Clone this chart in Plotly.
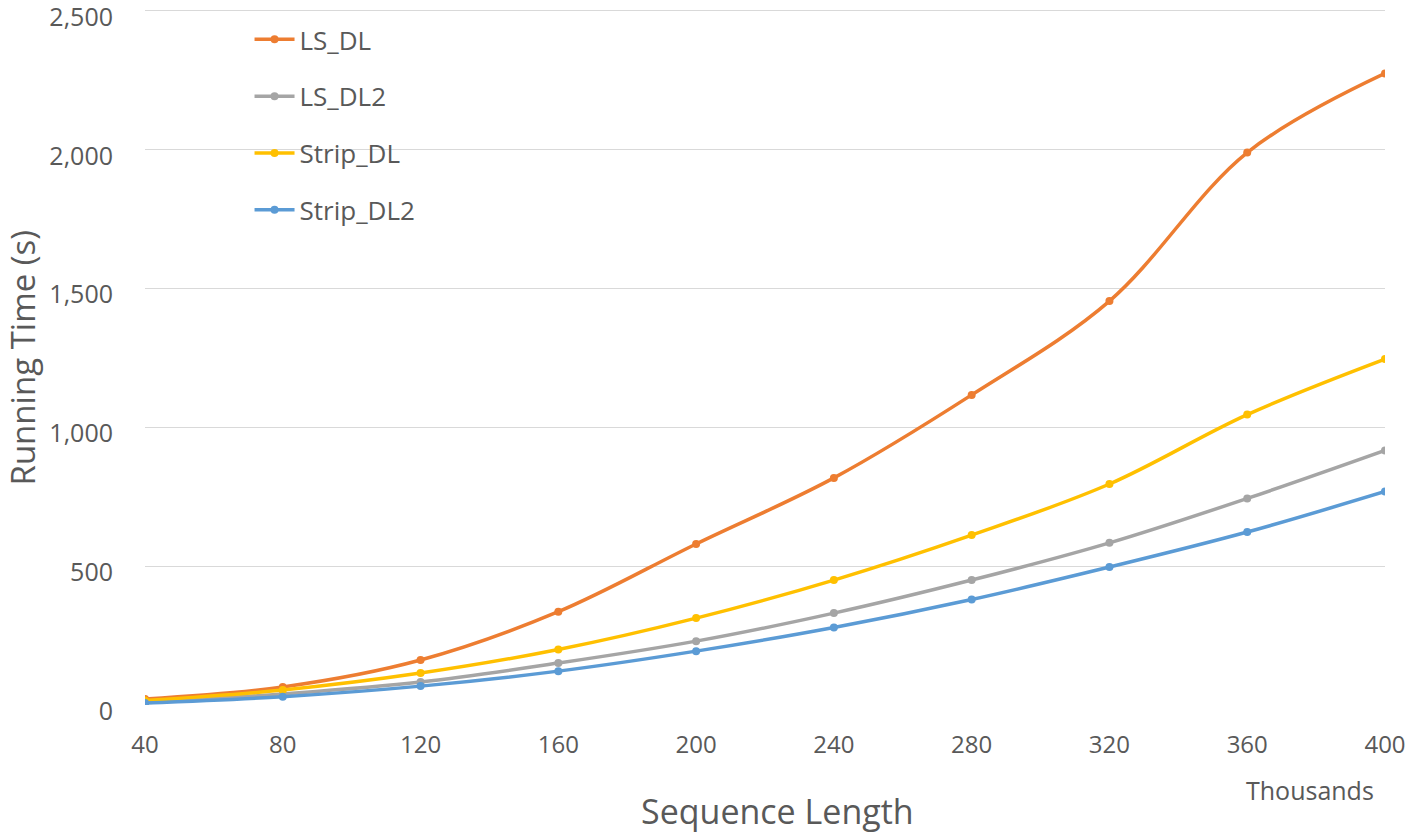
import plotly.graph_objects as go

seq_len = [40, 80, 120, 160, 200, 240, 280, 320, 360, 400]
ls_dl = [22, 65, 162, 336, 580, 818, 1117, 1455, 1990, 2275]
ls_dl2 = [8, 40, 83, 151, 230, 331, 450, 584, 744, 917]
strip_dl = [16, 54, 115, 200, 313, 450, 612, 796, 1046, 1246]
strip_dl2 = [7, 30, 68, 122, 194, 279, 380, 497, 623, 769]
y_ticks = [0, 500, 1000, 1500, 2000, 2500]

series = [
    ("LS_DL", ls_dl, "#ED7D31"),
    ("LS_DL2", ls_dl2, "#A5A5A5"),
    ("Strip_DL", strip_dl, "#FFC000"),
    ("Strip_DL2", strip_dl2, "#5B9BD5"),
]

font_family = "Open Sans, Noto Sans, sans-serif"
text_color = "#595959"

fig = go.Figure()
for name, vals, color in series:
    fig.add_trace(go.Scatter(
        x=seq_len, y=vals, name=name, mode="lines+markers",
        line=dict(color=color, width=3.5, shape="spline", smoothing=1),
        marker=dict(color=color, size=8),
        legendgroup=name,
    ))

fig.update_layout(
    width=1415, height=833,
    paper_bgcolor="white", plot_bgcolor="white",
    margin=dict(l=145, r=15, t=9, b=128),
    font=dict(family=font_family, color=text_color, size=24),
    showlegend=True,
    legend=dict(
        x=0.0843, y=0.99, xanchor="left", yanchor="top",
        bgcolor="rgba(0,0,0,0)", font=dict(size=26, color=text_color),
        tracegroupgap=20, itemwidth=40,
    ),
    xaxis=dict(
        range=[40, 400], tickmode="array", tickvals=seq_len,
        ticktext=[str(v) for v in seq_len],
        showgrid=False, zeroline=False, showline=False,
        ticks="", ticklabelstandoff=23, tickfont=dict(size=24, color=text_color),
        ticklabeloverflow="allow",
    ),
    yaxis=dict(
        range=[0, 2507], tickmode="array", tickvals=y_ticks,
        tickformat=",", showgrid=True, gridcolor="#D9D9D9", gridwidth=1,
        zeroline=False, showline=False, ticks="", ticklabelstandoff=31,
        ticklabelshift=6, ticklabeloverflow="allow",
        tickfont=dict(size=25, color=text_color), automargin=False,
    ),
    annotations=[
        dict(text="Thousands", xref="paper", yref="paper", x=0.9398, y=-0.1225,
             xanchor="center", yanchor="middle", showarrow=False,
             font=dict(size=25, color=text_color)),
        dict(text="Sequence Length", xref="paper", yref="paper", x=0.51, y=-0.152,
             xanchor="center", yanchor="middle", showarrow=False,
             font=dict(size=34, color=text_color)),
        dict(text="Running Time (s)", xref="paper", yref="paper", x=-0.0988, y=0.5,
             xanchor="center", yanchor="middle", showarrow=False, textangle=-90,
             font=dict(size=33, color=text_color)),
    ],
)

fig.write_html("out.html", config={"displayModeBar": False},
               post_script="document.body.style.margin='0';")
